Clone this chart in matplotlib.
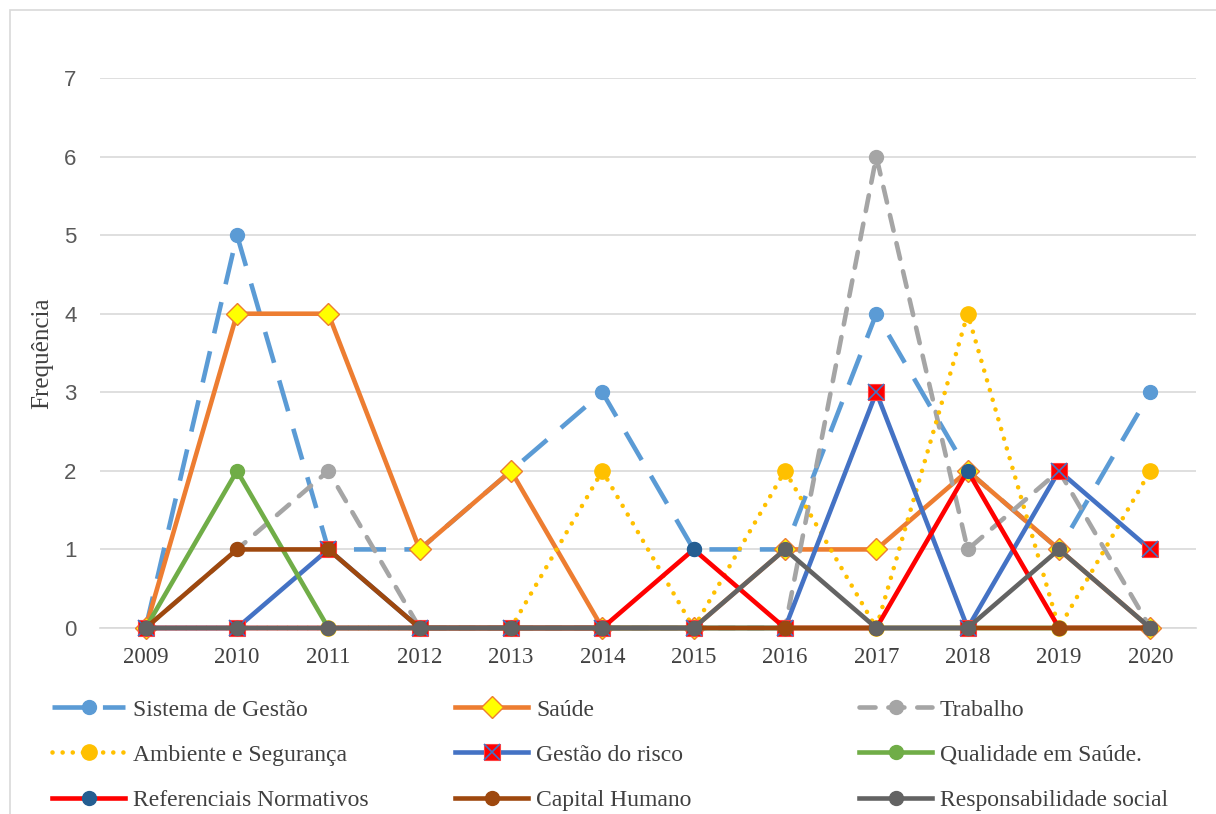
import matplotlib
matplotlib.use("Agg")
import matplotlib.pyplot as plt
from matplotlib.legend_handler import HandlerTuple
from matplotlib.patches import Rectangle

years = ["2009", "2010", "2011", "2012", "2013", "2014", "2015", "2016", "2017", "2018", "2019", "2020"]

sistema_gestao = [0, 5, 1, 1, 2, 3, 1, 1, 4, 2, 1, 3]
saude = [0, 4, 4, 1, 2, 0, 0, 1, 1, 2, 1, 0]
trabalho = [0, 1, 2, 0, 0, 0, 0, 0, 6, 1, 2, 0]
ambiente_seguranca = [0, 0, 0, 0, 0, 2, 0, 2, 0, 4, 0, 2]
gestao_risco = [0, 0, 1, 0, 0, 0, 0, 0, 3, 0, 2, 1]
qualidade_saude = [0, 2, 0, 0, 0, 0, 0, 0, 0, 0, 0, 0]
referenciais = [0, 0, 0, 0, 0, 0, 1, 0, 0, 2, 0, 0]
capital_humano = [0, 1, 1, 0, 0, 0, 0, 0, 0, 0, 0, 0]
responsabilidade = [0, 0, 0, 0, 0, 0, 0, 1, 0, 0, 1, 0]

W, H = 1216, 814
fig = plt.figure(figsize=(W / 100, H / 100), dpi=100)
ax = fig.add_axes([100 / W, 1 - 628 / H, 1096 / W, 550 / H])

x = list(range(len(years)))
lw = 3.3
ms = 10
serif = ["Liberation Serif", "DejaVu Serif"]

handles = []
h, = ax.plot(x, sistema_gestao, color="#5B9BD5", lw=lw, ls=(0, (7, 4)), marker="o", ms=ms,
             dash_capstyle="butt", clip_on=False, zorder=3)
handles.append((h,))
h, = ax.plot(x, saude, color="#ED7D31", lw=lw, marker="D", ms=11, mfc="#FFFF00", mec="#ED7D31",
             mew=1.0, clip_on=False, zorder=3)
handles.append((h,))
h, = ax.plot(x, trabalho, color="#A5A5A5", lw=lw, ls=(0, (3.5, 2.8)), marker="o", ms=ms,
             dash_capstyle="round", clip_on=False, zorder=3)
handles.append((h,))
h, = ax.plot(x, ambiente_seguranca, color="#FFC000", lw=lw, ls=(0, (0.01, 2.2)), marker="o", ms=11,
             dash_capstyle="round", clip_on=False, zorder=3)
handles.append((h,))
h1, = ax.plot(x, gestao_risco, color="#4472C4", lw=lw, marker="s", ms=12, mfc="#FF0000",
              mec="#FF4040", mew=0.8, clip_on=False, zorder=3)
h2, = ax.plot(x, gestao_risco, ls="none", marker="x", ms=11, mec="#4472C4", mew=1.2,
              clip_on=False, zorder=3)
handles.append((h1, h2))
h, = ax.plot(x, qualidade_saude, color="#70AD47", lw=lw, marker="o", ms=ms, clip_on=False, zorder=3)
handles.append((h,))
h, = ax.plot(x, referenciais, color="#FF0000", lw=lw, marker="o", ms=ms, mfc="#255E91",
             mec="#255E91", clip_on=False, zorder=3)
handles.append((h,))
h, = ax.plot(x, capital_humano, color="#9E480E", lw=lw, marker="o", ms=ms, clip_on=False, zorder=3)
handles.append((h,))
h, = ax.plot(x, responsabilidade, color="#636363", lw=lw, marker="o", ms=ms, clip_on=False, zorder=3)
handles.append((h,))

labels = ["Sistema de Gestão", "Saúde", "Trabalho",
          "Ambiente e Segurança", "Gestão do risco", "Qualidade em Saúde.",
          "Referenciais Normativos", "Capital Humano", "Responsabilidade social"]

ax.set_xlim(-0.5, len(years) - 0.5)
ax.set_ylim(0, 7)
ax.set_yticks(range(0, 8))
ax.set_xticks(x)
ax.set_xticklabels(years, fontfamily=serif, fontsize=16.5, color="#404040")
for t in ax.get_yticklabels():
    t.set_fontfamily(["Liberation Sans", "DejaVu Sans"])
    t.set_fontsize(16)
    t.set_color("#595959")
ax.tick_params(axis="x", length=0, pad=14)
ax.tick_params(axis="y", length=0, pad=17)
ax.grid(axis="y", color="#D9D9D9", lw=1.2)
ax.set_axisbelow(True)
for s in ["top", "right", "left"]:
    ax.spines[s].set_visible(False)
ax.spines["bottom"].set_color("#D9D9D9")
ax.spines["bottom"].set_linewidth(1.2)
ax.set_ylabel("Frequência", fontfamily=serif, fontsize=18, color="#404040", labelpad=8)

col_x = [52 / W, 455 / W, 859 / W]
for c in range(3):
    idx = [c, c + 3, c + 6]
    leg = fig.legend([handles[i] for i in idx], [labels[i] for i in idx],
                     loc="upper left", bbox_to_anchor=(col_x[c], 1 - 699 / H),
                     frameon=False, ncol=1, handlelength=3.1, handletextpad=0.33,
                     labelspacing=1.0, borderpad=0, borderaxespad=0,
                     prop={"family": serif, "size": 17},
                     handler_map={tuple: HandlerTuple(ndivide=1, pad=0)})
    for t in leg.get_texts():
        t.set_color("#404040")

fig.add_artist(Rectangle((10 / W, -0.01), 1.2, 1 - 10 / H + 0.01, transform=fig.transFigure,
                         fill=False, ec="#D9D9D9", lw=1.2))

fig.savefig("out.png", dpi=100)
